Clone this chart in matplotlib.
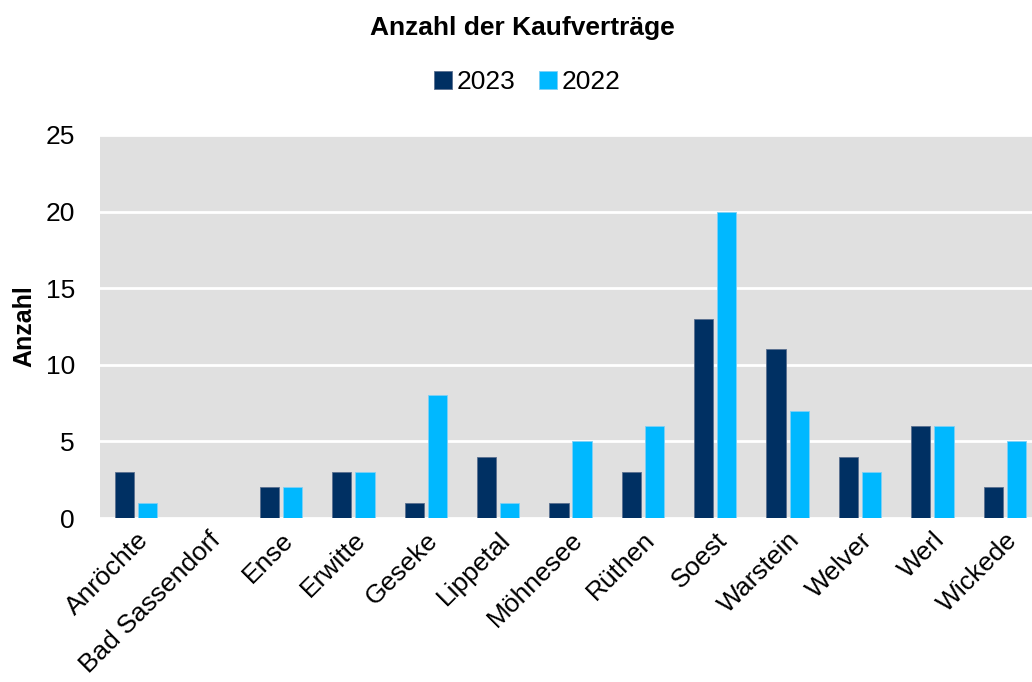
import numpy as np
import matplotlib.pyplot as plt

plt.rcParams['font.family'] = ['Liberation Sans', 'DejaVu Sans']

# DATEN
orte = ['Anröchte', 'Bad Sassendorf', 'Ense', 'Erwitte', 'Geseke', 'Lippetal',
        'Möhnesee', 'Rüthen', 'Soest', 'Warstein', 'Welver', 'Werl', 'Wickede']
werte_2023 = [3, 0, 2, 3, 1, 4, 1, 3, 13, 11, 4, 6, 2]
werte_2022 = [1, 0, 2, 3, 8, 1, 5, 6, 20, 7, 3, 6, 5]
yticks = [0, 5, 10, 15, 20, 25]

c_2023 = '#003063'
c_2022 = '#00b8ff'

fig = plt.figure(figsize=(10.32, 6.82), dpi=100)
ax = fig.add_axes([100/1032, 1 - 518/682, 941/1032, 383/682])
ax.set_facecolor('#e0e0e0')

x = np.arange(len(orte))
w = 0.265
ax.bar(x - 0.16, werte_2023, w, color=c_2023, edgecolor='#5a7090',
       linewidth=0.6, label='2023', zorder=3)
ax.bar(x + 0.16, werte_2022, w, color=c_2022, edgecolor='#7fd0f5',
       linewidth=0.6, label='2022', zorder=3)

ax.set_xlim(-0.5, len(orte) - 0.5)
ax.set_ylim(0, 25)
ax.set_yticks(yticks)
ax.yaxis.grid(True, color='white', linewidth=2, zorder=1)
ax.set_axisbelow(True)
for s in ax.spines.values():
    s.set_visible(False)
ax.tick_params(axis='y', length=0, labelsize=19, pad=18)
ax.tick_params(axis='x', length=0, labelsize=19, pad=7)
ax.set_xticks(x)
ax.set_xticklabels(orte, rotation=45, ha='right', rotation_mode='anchor')

ax.set_ylabel('Anzahl', fontsize=18, fontweight='bold', labelpad=7)

fig.text(522/1032, 1 - 28/682, 'Anzahl der Kaufverträge', ha='center',
         va='center', fontsize=19, fontweight='bold')
fig.legend(loc='center', bbox_to_anchor=(527/1032, 1 - 82/682), ncol=2,
           frameon=False, fontsize=19, handlelength=0.7, handleheight=0.7,
           handletextpad=0.15, columnspacing=0.9)

fig.savefig('out.png', dpi=100)
